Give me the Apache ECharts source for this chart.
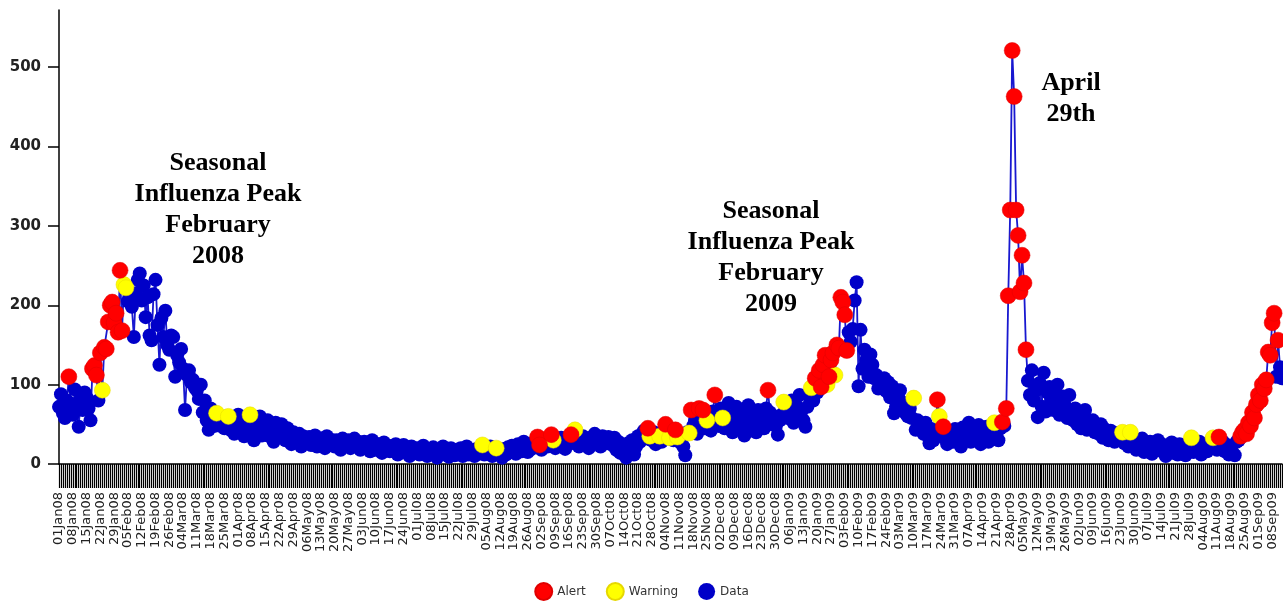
<!DOCTYPE html>
<html><head><meta charset="utf-8">
<script src="https://cdn.jsdelivr.net/npm/echarts@6/dist/echarts.min.js"></script>
<style>html,body{margin:0;padding:0;background:#fff}#c{width:1283px;height:602px}</style>
</head><body><div id="c"></div>
<script>
// Daily counts, one row per week, starting 01 Jan 2008
const winter2008 = [
  72, 88, 64, 58, 80, 110, 76,
  62, 94, 70, 47, 82, 68, 90,
  84, 70, 55, 120, 124, 112, 80,
  140, 93, 147, 145, 179, 200, 204,
  178, 190, 166, 244, 168, 226, 222,
  205, 212, 198, 160, 215, 232, 240,
  206, 225, 185, 210, 162, 156, 214,
  232, 175, 125, 184, 160, 193, 150,
  144, 162, 160, 110, 137, 128, 145,
  120, 68, 112, 118, 103, 106, 96,
  93, 82, 100, 65, 80, 55, 43,
  70, 55, 48, 64, 58, 48, 52,
  45, 60, 60, 43, 50, 38, 55,
  62, 40, 48, 35, 52, 45, 62
];
const summer2008 = [
  58, 30, 46, 42, 60, 36, 50,
  40, 55, 35, 48, 28, 52, 44,
  38, 50, 42, 30, 45, 36, 25,
  40, 32, 28, 38, 22, 35, 30,
  26, 34, 24, 30, 36, 22, 28,
  32, 25, 20, 35, 28, 24, 30,
  22, 30, 26, 18, 32, 27, 24,
  30, 20, 25, 32, 22, 28, 18,
  24, 28, 20, 26, 16, 30, 22,
  18, 25, 21, 14, 27, 20, 23,
  16, 22, 19, 25, 12, 20, 17,
  24, 15, 20, 10, 22, 18, 14,
  20, 12, 17, 23, 15, 10, 19,
  14, 21, 16, 8, 18, 13, 22,
  12, 17, 9, 20, 15, 11, 18,
  14, 20, 10, 16, 22, 12, 17,
  15, 10, 19, 13, 21, 24, 12,
  18, 14, 22, 10, 17, 20, 13,
  16, 8, 19, 12, 21, 15, 23,
  18, 13, 25, 20, 16, 28, 22
];
const autumn2008 = [
  15, 24, 19, 27, 22, 34, 24,
  18, 26, 30, 22, 27, 37, 30,
  20, 28, 24, 33, 26, 19, 30,
  25, 37, 32, 43, 28, 22, 30,
  35, 24, 30, 20, 33, 27, 38,
  28, 32, 22, 35, 30, 26, 34,
  30, 24, 33, 18, 28, 14, 25,
  20, 8, 26, 16, 30, 12, 22,
  35, 28, 38, 42, 32, 45, 35,
  30, 40, 25, 38, 35, 28, 42,
  50, 36, 33, 40, 30, 43, 34,
  28, 38, 22, 11, 40, 39, 68,
  48, 55, 38, 70, 52, 68, 45,
  55, 60, 42, 66, 87, 62, 48,
  70, 58, 45, 62, 77, 50, 40,
  58, 72, 44, 65, 52, 36, 60,
  74, 48, 62, 55, 40, 68, 52,
  58, 45, 70, 93, 65, 50, 60
];
const winter2009 = [
  48, 37, 55, 62, 78, 70, 58,
  65, 80, 52, 75, 60, 87, 68,
  55, 47, 72, 85, 96, 80, 108,
  90, 118, 97, 125, 137, 100, 110,
  131, 140, 112, 150, 146, 210, 204,
  188, 143, 166, 154, 170, 206, 229,
  98, 169, 120, 144, 131, 110, 138,
  125, 108, 112, 95, 100, 106, 108,
  92, 103, 84, 98, 64, 72, 88,
  93, 78, 66, 64, 60, 70, 58
];
const spring2009 = [
  83, 43, 55, 48, 47, 38, 52,
  36, 26, 44, 30, 40, 81, 60,
  38, 47, 32, 25, 42, 35, 28,
  44, 30, 38, 22, 46, 33, 40,
  52, 28, 36, 45, 30, 49, 25,
  40, 33, 47, 28, 35, 44, 52,
  38, 30, 45, 53, 48, 70, 212,
  320, 521, 463, 320, 288, 217, 263,
  228, 144, 105, 87, 118, 80, 93,
  59, 102, 72, 115, 66, 90, 97,
  80, 68, 89, 100, 62, 77, 85,
  72, 58, 87, 64, 55, 70, 50,
  62, 45, 58, 68, 43, 52, 47,
  55, 40, 48, 38, 50, 33, 44
];
const summer2009 = [
  37, 30, 42, 35, 28, 39, 32,
  34, 40, 26, 36, 22, 40, 25,
  30, 18, 27, 22, 32, 15, 24,
  20, 28, 13, 25, 18, 30, 21,
  16, 24, 10, 22, 19, 27, 14,
  21, 12, 25, 17, 23, 11, 19,
  26, 33, 15, 22, 18, 28, 12,
  24, 20, 16, 27, 22, 33, 25,
  18, 34, 22, 28, 16, 24, 12,
  20, 14, 11, 28, 30, 35, 40,
  43, 38, 52, 48, 65, 58, 75,
  87, 80, 100, 95, 106, 141, 137,
  178, 190, 110, 156, 122, 108
];
// Day indices (from 01Jan08) flagged as Alert / Warning
const alertDays = [5,17,18,19,21,23,24,25,26,27,28,29,30,31,32,
  243,244,250,260,299,308,313,321,325,327,333,360,384,386,387,388,389,391,392,393,395,396,397,398,399,400,
  446,449,479,481,482,483,484,485,486,487,488,489,490,491,
  589,600,601,602,603,604,605,606,607,608,609,610,611,612,613,614,615,616,617,619];
const warningDays = [22,33,34,80,86,97,215,222,251,262,300,305,310,314,320,329,337,368,382,390,394,434,447,475,540,544,575,586];
const yTicks = [0,100,200,300,400,500];
const seriesNames = ['Alert','Warning','Data'];
const annotations = [
  {text:'Seasonal\nInfluenza Peak\nFebruary\n2008', x:218, y:148},
  {text:'Seasonal\nInfluenza Peak\nFebruary\n2009', x:771, y:196},
  {text:'April\n29th', x:1071, y:68}
];

const values = [].concat(winter2008, summer2008, autumn2008, winter2009, spring2009, summer2009);
const months = ['Jan','Feb','Mar','Apr','May','Jun','Jul','Aug','Sep','Oct','Nov','Dec'];
const start = Date.UTC(2008,0,1);
const categories = values.map((v,i)=>{
  const d = new Date(start + i*86400000);
  const dd = String(d.getUTCDate()).padStart(2,'0');
  const yy = String(d.getUTCFullYear()%100).padStart(2,'0');
  return dd + months[d.getUTCMonth()] + yy;
});

const chart = echarts.init(document.getElementById('c'), null, {renderer:'canvas'});
chart.setOption({
  animation:false,
  backgroundColor:'#fff',
  grid:{left:59, right:1, top:10, bottom:138, containLabel:false},
  legend:{
    data:seriesNames, icon:'circle', left:'center', top:577,
    itemWidth:17, itemHeight:17, itemGap:20,
    textStyle:{fontFamily:'DejaVu Sans', fontSize:12, color:'#333'}
  },
  xAxis:{
    type:'category', data:categories, boundaryGap:false,
    axisLine:{lineStyle:{color:'#000', width:1.5}},
    axisTick:{show:true, interval:0, length:24, lineStyle:{color:'#000', width:1.2}},
    axisLabel:{interval:6, rotate:90, margin:28, fontFamily:'DejaVu Sans', fontSize:13, color:'#222'},
    splitLine:{show:false}
  },
  yAxis:{
    type:'value', min:0, max:572, interval:100,
    axisLine:{show:true, lineStyle:{color:'#000', width:1.5}},
    axisTick:{show:true, length:11, lineStyle:{color:'#000', width:1.5}, customValues:yTicks},
    axisLabel:{margin:18, fontFamily:'DejaVu Sans', fontWeight:'bold', fontSize:15, color:'#222',
      customValues:yTicks, formatter:v=> (v%100===0 ? String(v) : '')},
    splitLine:{show:false}
  },
  series:[
    {name:'Data', type:'line', data:values, symbol:'circle', symbolSize:14,
     showSymbol:true, showAllSymbol:true, z:2,
     itemStyle:{color:'#0000c8', opacity:1}, lineStyle:{color:'#1818d0', width:1.8}},
    {name:'Warning', type:'scatter', data:warningDays.map(d=>[d, values[d]]), symbol:'circle', symbolSize:16, z:3,
     itemStyle:{color:'#ffff00', opacity:1, borderColor:'#e6d800', borderWidth:0.5}},
    {name:'Alert', type:'scatter', data:alertDays.map(d=>[d, values[d]]), symbol:'circle', symbolSize:16, z:4,
     itemStyle:{color:'#ff0000', opacity:1, borderColor:'#e00000', borderWidth:0.5}}
  ],
  graphic: annotations.map(a=>({
    type:'text', x:a.x, y:a.y, z:100,
    style:{text:a.text, font:'bold 26px "Liberation Serif"', fill:'#000', align:'center', verticalAlign:'top', lineHeight:31}
  }))
});
</script></body></html>
